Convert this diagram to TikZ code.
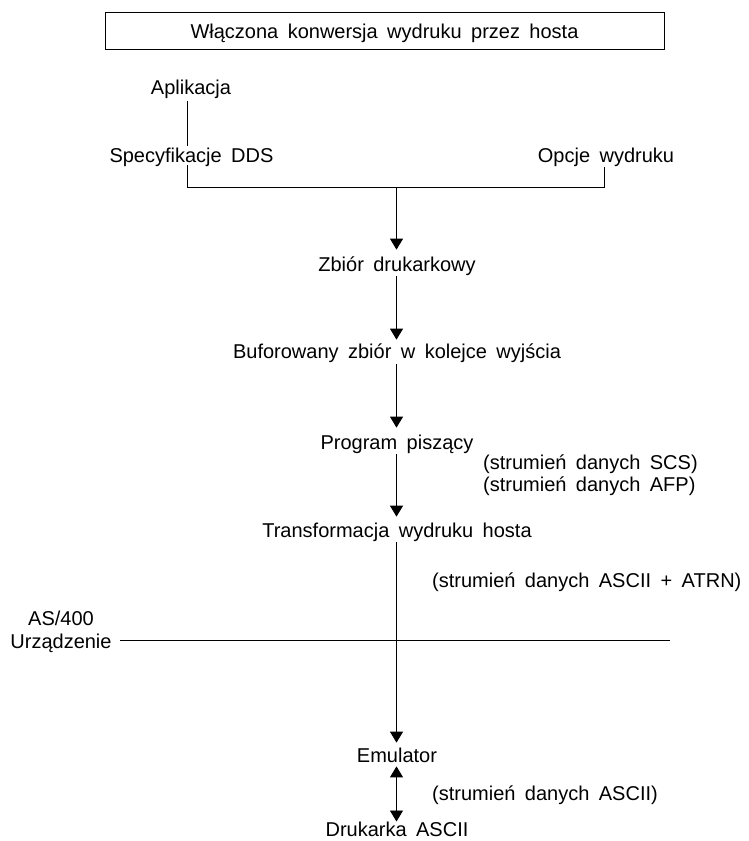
\documentclass[tikz,border=0pt]{standalone}
\usepackage{fontspec}
\setmainfont{Liberation Sans}[WordSpace=1.7]
\usetikzlibrary{arrows.meta}
\begin{document}
\begin{tikzpicture}[x=1pt,y=-1pt,
  lbl/.style={inner sep=0pt, text height=14.3pt, text depth=5pt, anchor=base, font=\fontsize{20pt}{24pt}\selectfont},
  lblw/.style={lbl, anchor=base west},
  conn/.style={line width=0.9pt, draw=black},
  arr/.style={conn, -{Triangle[length=11pt,width=13pt]}},
  darr/.style={conn, {Triangle[length=11pt,width=13pt]}-{Triangle[length=11pt,width=13pt]}},
  titlebox/.style={draw, line width=0.9pt, minimum width=559pt, minimum height=36.3pt, inner sep=0pt, text height=14.3pt, text depth=0pt, font=\fontsize{20pt}{24pt}\selectfont},
]
\useasboundingbox (0,0) rectangle (748,841);

\node[titlebox] (title) at (384.5,31) {Włączona konwersja wydruku przez hosta};

\node[lbl] (apl) at (191,94.15) {Aplikacja};
\node[lbl] (spec) at (191.5,162.15) {Specyfikacje DDS};
\node[lbl] (opc) at (606,162.15) {Opcje wydruku};

\node[lbl] (zb) at (397,271.15) {Zbiór drukarkowy};
\node[lbl] (buf) at (397,358.15) {Buforowany zbiór w kolejce wyjścia};
\node[lbl] (prog) at (397,449.15) {Program piszący};
\node[lblw] (scs) at (483,469.15) {(strumień danych SCS)};
\node[lblw] (afp) at (483,491.15) {(strumień danych AFP)};
\node[lbl] (trans) at (397,537.15) {Transformacja wydruku hosta};
\node[lblw] (atrn) at (432,587.15) {(strumień danych ASCII + ATRN)};
\node[lbl] (as) at (61,625.15) {AS/400};
\node[lbl] (urz) at (61,648) {Urządzenie};
\node[lbl] (emu) at (397,762.15) {Emulator};
\node[lblw] (ascii) at (432,800.15) {(strumień danych ASCII)};
\node[lbl, text depth=0pt] (druk) at (397,836) {Drukarka ASCII};

\coordinate (lx) at (187,187);
\coordinate (rx) at (604,187);
\coordinate (jx) at (396.5,187);
\coordinate (sepL) at (120,640.7);
\coordinate (sepR) at (670,640.7);

% top connectors
\draw[conn] ([yshift=-2pt]apl.south -| lx) -- ([yshift=2pt]spec.north -| lx);
\draw[conn] ([yshift=2pt]spec.south -| lx) -- (lx) -- (rx) -- (opc.south -| rx);

% main flow
\draw[arr, shorten >=7pt] (jx) -- (zb.north -| jx);
\draw[arr, shorten >=4pt] (zb.south -| jx) -- (buf.north -| jx);
\draw[arr, shorten >=7pt] ([yshift=-1pt]buf.south -| jx) -- (prog.north -| jx);
\draw[arr, shorten >=6pt] (prog.south -| jx) -- (trans.north -| jx);
\draw[arr, shorten >=5pt] (trans.south -| jx) -- (emu.north -| jx);
\draw[darr, shorten >=0pt, shorten <=-1pt] (emu.south -| jx) -- (druk.north -| jx);

% boundary line
\draw[conn] (sepL) -- (sepR);
\end{tikzpicture}
\end{document}
